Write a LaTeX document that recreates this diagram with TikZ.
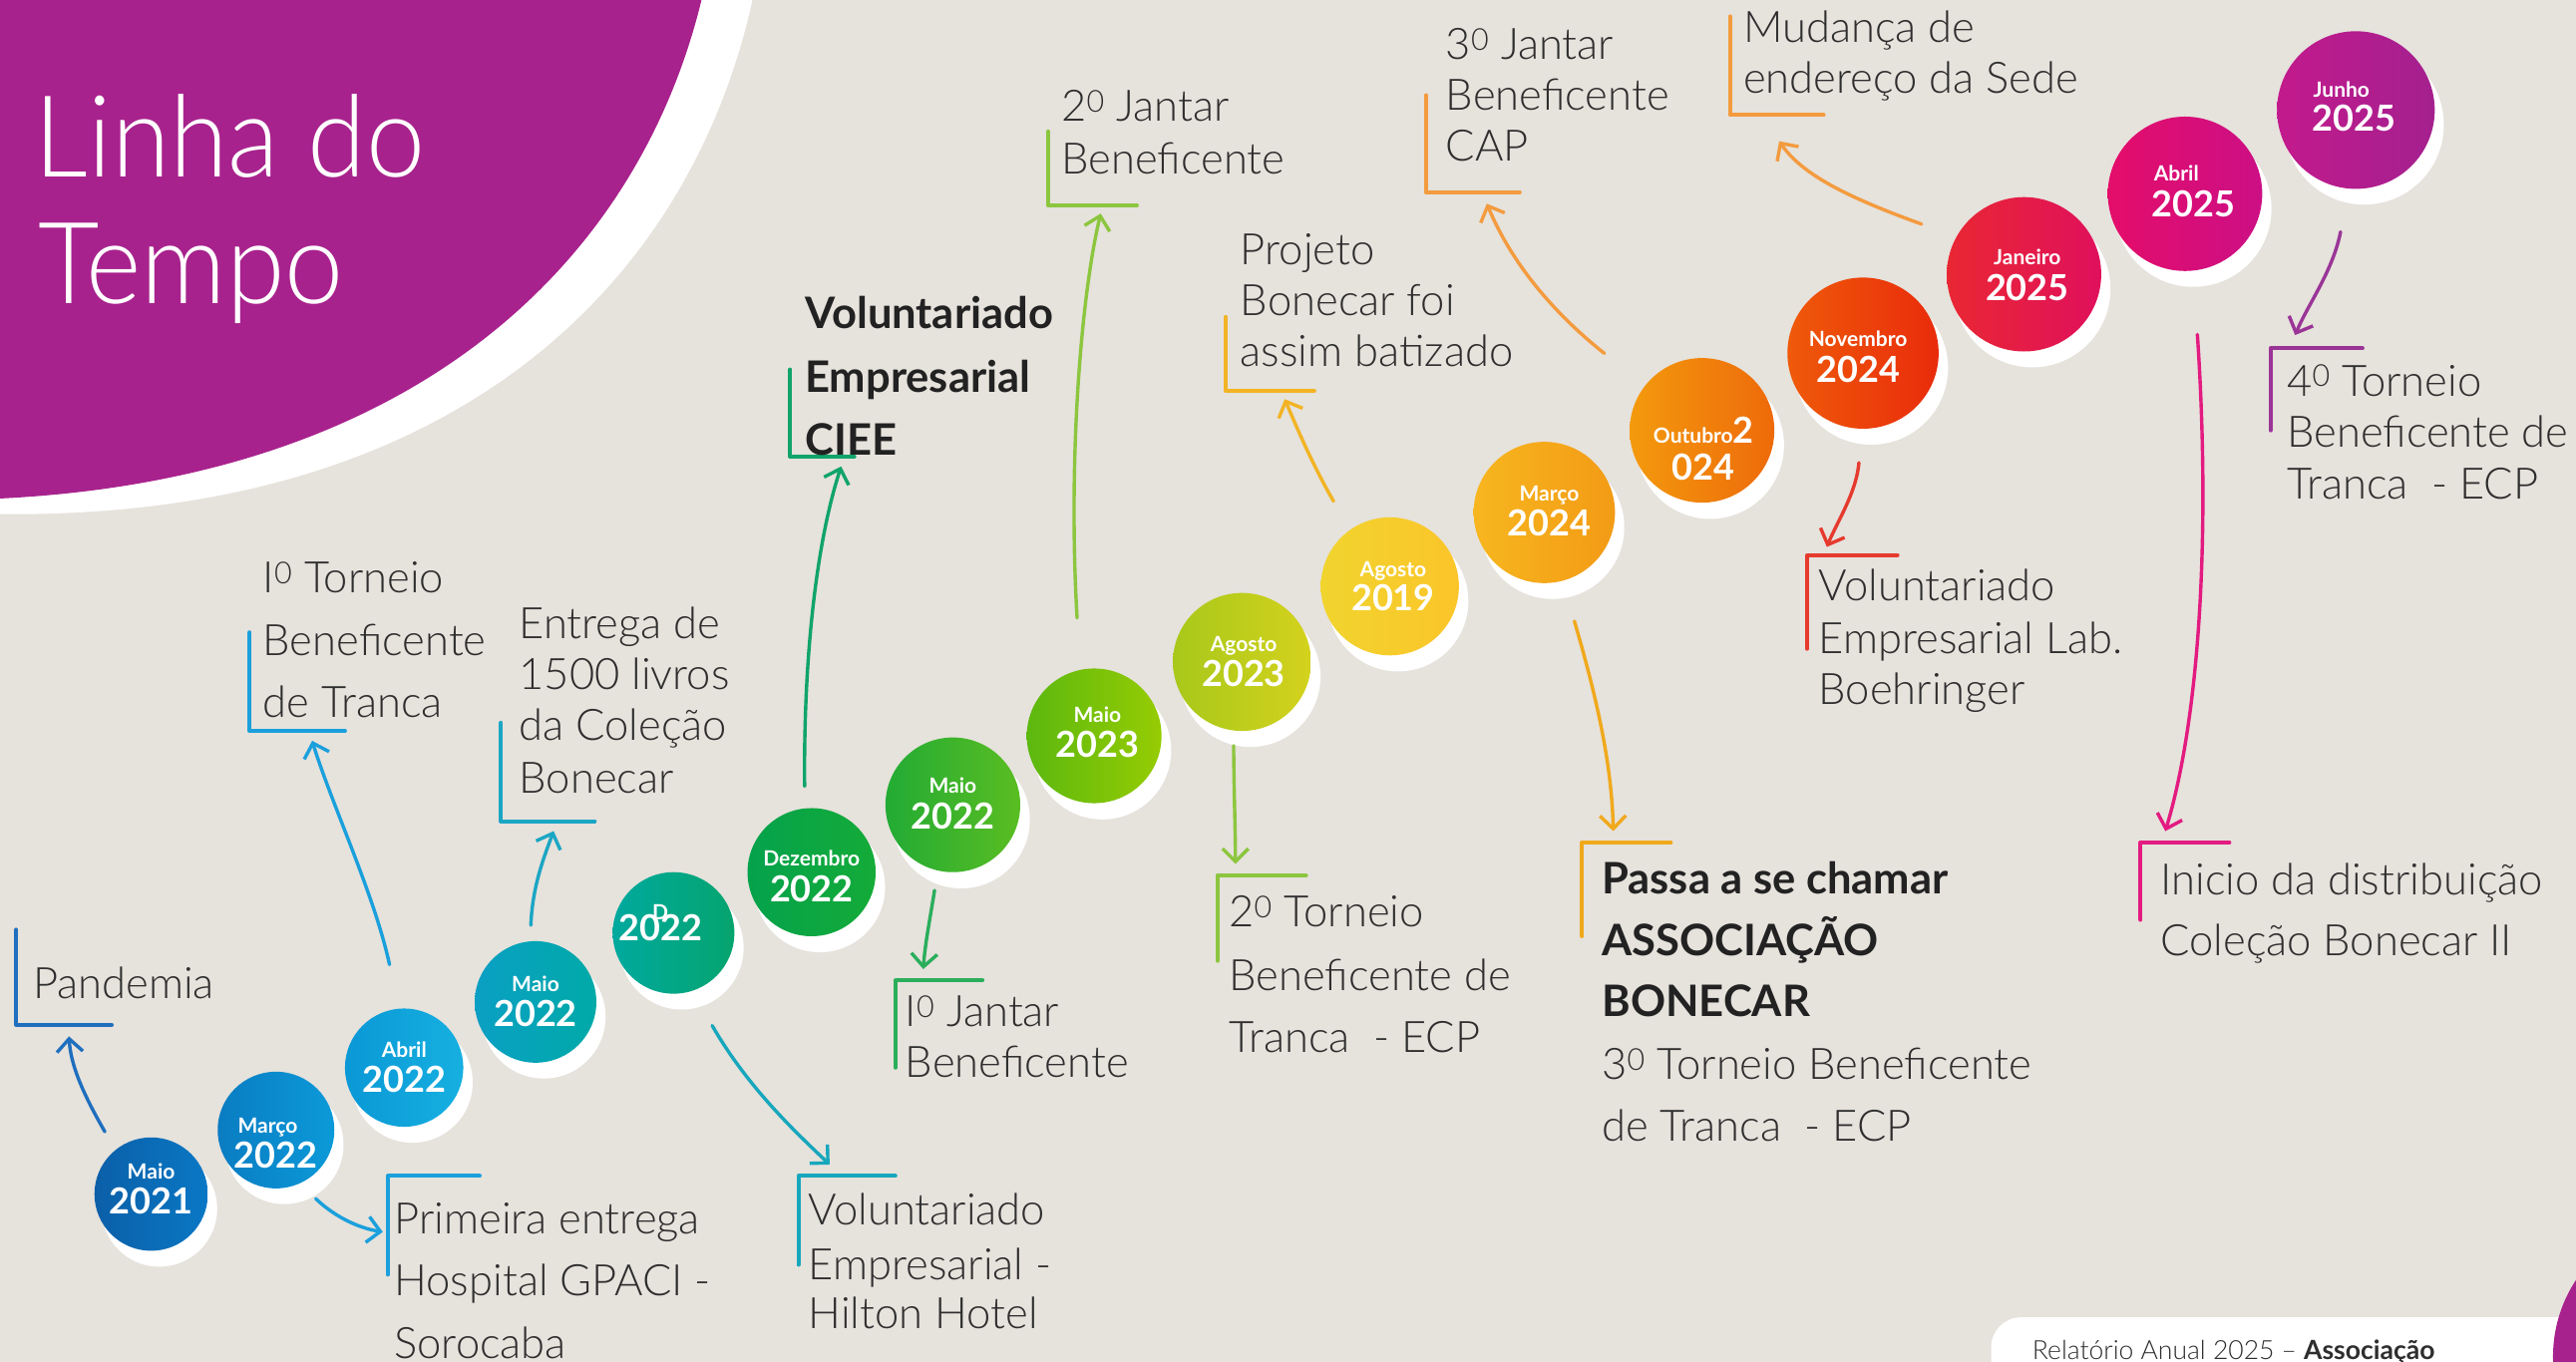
\documentclass[tikz,border=0pt]{standalone}
\usepackage{fontspec}
\setmainfont{Lato Light}[BoldFont=Lato Bold]
\newfontfamily\circfont{Lato Bold}
\usetikzlibrary{arrows.meta}
\definecolor{bg}{HTML}{E6E2DC}
\definecolor{purp}{HTML}{A8228D}
\definecolor{txt}{HTML}{2E2E2E}
\definecolor{txtb}{HTML}{222222}
% circle colours
\definecolor{k1L}{HTML}{0B5FA8}\definecolor{k1R}{HTML}{0A78C5}
\definecolor{k2L}{HTML}{0A7CC2}\definecolor{k2R}{HTML}{0B9AD9}
\definecolor{k3L}{HTML}{0A98D6}\definecolor{k3R}{HTML}{16B0E0}
\definecolor{k4L}{HTML}{0A9FC4}\definecolor{k4R}{HTML}{00AAA8}
\definecolor{k5L}{HTML}{00A99E}\definecolor{k5R}{HTML}{05A46E}
\definecolor{k6L}{HTML}{05A24C}\definecolor{k6R}{HTML}{14AB38}
\definecolor{k7L}{HTML}{22AB34}\definecolor{k7R}{HTML}{5ABD22}
\definecolor{k8L}{HTML}{5CB80F}\definecolor{k8R}{HTML}{96CC03}
\definecolor{k9L}{HTML}{A8C81A}\definecolor{k9R}{HTML}{D4D21D}
\definecolor{k10L}{HTML}{F1D42E}\definecolor{k10R}{HTML}{FBC52A}
\definecolor{k11L}{HTML}{F7B61F}\definecolor{k11R}{HTML}{F39B15}
\definecolor{k12L}{HTML}{F39A0D}\definecolor{k12R}{HTML}{EE6A0A}
\definecolor{k13L}{HTML}{EF5A0A}\definecolor{k13R}{HTML}{E92B0B}
\definecolor{k14L}{HTML}{E92733}\definecolor{k14R}{HTML}{E0105C}
\definecolor{k15L}{HTML}{E40D6A}\definecolor{k15R}{HTML}{CC0F85}
\definecolor{k16L}{HTML}{C21A8D}\definecolor{k16R}{HTML}{A4208E}
% connector colours
\definecolor{a1}{HTML}{1F6FBF}\definecolor{a2}{HTML}{1AA0DC}
\definecolor{a3}{HTML}{1AA0DC}\definecolor{a4}{HTML}{1BA6C4}
\definecolor{a5}{HTML}{17A7BD}\definecolor{a6}{HTML}{10A46A}
\definecolor{a7}{HTML}{2AAE5C}\definecolor{a8}{HTML}{8CC63F}
\definecolor{a9}{HTML}{8CC63F}\definecolor{a10}{HTML}{F2B424}
\definecolor{a11}{HTML}{F0A91C}\definecolor{a12}{HTML}{F39B3E}
\definecolor{a13}{HTML}{E63A2E}\definecolor{a14}{HTML}{F39B3E}
\definecolor{a15}{HTML}{E31B80}\definecolor{a16}{HTML}{9A3597}
\begin{document}
\begin{tikzpicture}[x=1.6473pt,y=-1.6473pt,line cap=round,line join=round,
  lbl/.style={anchor=base west,inner sep=0pt,font=\fontsize{43.5}{52}\selectfont,text=txt},
  lblb/.style={anchor=base west,inner sep=0pt,font=\fontsize{43.5}{52}\selectfont\bfseries,text=txtb},
  mon/.style={anchor=base,inner sep=0pt,font=\circfont\fontsize{21}{21}\selectfont,text=white},
  yr/.style={anchor=base,inner sep=0pt,font=\circfont\fontsize{36}{36}\selectfont,text=white},
  tlc/.style={circle,inner sep=0pt,minimum size=#1},
  shad/.style={circle,inner sep=0pt,fill=white,minimum size=#1},
  arr/.style={line width=3.4pt,-{Straight Barb[length=13pt,width=26pt]}},
  brk/.style={line width=4pt}]
\useasboundingbox (0,0) rectangle (1568,829);
\fill[bg] (0,0) rectangle (1568,829);
% title shape
\fill[white] (0,0) -- (458,0) .. controls (419,176) and (273,316) .. (0,313) -- cycle;
\fill[purp] (0,0) -- (427,0) .. controls (388.5,158) and (255,291) .. (0,303.5) -- cycle;
\node[anchor=base west,inner sep=0pt,text=white,font=\fontsize{114}{127}\selectfont] (title1) at (21,108) {\scalebox{0.93}[1]{Linha do}};
\node[anchor=base west,inner sep=0pt,text=white,font=\fontsize{114}{127}\selectfont] (title2) at (23,185) {\scalebox{0.93}[1]{Tempo}};
% footer
\fill[white,rounded corners=30pt] (1212,802) rectangle (1600,860);
\fill[purp] (1639,826) circle (85);
\node[anchor=base west,inner sep=0pt,text=txt,font=\fontsize{26.5}{26.5}\selectfont] (foot) at (1237,828) {Relatório Anual 2025 – \textbf{Associação}};

% tips of connectors
\coordinate (t1) at (42,631);
\coordinate (t2) at (233,750);
\coordinate (t3) at (190,451);
\coordinate (t4) at (337,506);
\coordinate (t5) at (505,709);
\coordinate (t6) at (512,284);
\coordinate (t7) at (562,590);
\coordinate (t8) at (670,130);
\coordinate (t9) at (752,526);
\coordinate (t10) at (782,243);
\coordinate (t11) at (982,506);
\coordinate (t12) at (905,124);
\coordinate (t13) at (1112,333);
\coordinate (t14) at (1083,86);
\coordinate (t15) at (1318,506);
\coordinate (t16) at (1397,204);

% circles
\node[shad=116pt] (s1) at (97,736) {};
\node[tlc=113.7pt,left color=k1L,right color=k1R] (c1) at (92,727) {};
\node[shad=119pt] (s2) at (173,697) {};
\node[tlc=117pt,left color=k2L,right color=k2R] (c2) at (168,688) {};
\node[shad=121pt] (s3) at (251,659) {};
\node[tlc=118.6pt,left color=k3L,right color=k3R] (c3) at (246,650) {};
\node[shad=124pt] (s4) at (331,619) {};
\node[tlc=121.9pt,left color=k4L,right color=k4R] (c4) at (326,610) {};
\node[shad=124pt] (s5) at (415,577) {};
\node[tlc=121.9pt,left color=k5L,right color=k5R] (c5) at (410,568) {};
\node[shad=131pt] (s6) at (499,540) {};
\node[tlc=128.5pt,left color=k6L,right color=k6R] (c6) at (494,531) {};
\node[shad=138pt] (s7) at (585,499) {};
\node[tlc=135.1pt,left color=k7L,right color=k7R] (c7) at (580,490) {};
\node[shad=138pt] (s8) at (671,457) {};
\node[tlc=135.1pt,left color=k8L,right color=k8R] (c8) at (666,448) {};
\node[shad=141pt] (s9) at (761,412) {};
\node[tlc=138.4pt,left color=k9L,right color=k9R] (c9) at (756,403) {};
\node[shad=141pt] (s10) at (851,366) {};
\node[tlc=138.4pt,left color=k10L,right color=k10R] (c10) at (846,357) {};
\node[shad=144pt] (s11) at (945,321) {};
\node[tlc=141.7pt,left color=k11L,right color=k11R] (c11) at (940,312) {};
\node[shad=148pt] (s12) at (1041,271) {};
\node[tlc=145pt,left color=k12L,right color=k12R] (c12) at (1036,262) {};
\node[shad=154pt] (s13) at (1139,224) {};
\node[tlc=151.6pt,left color=k13L,right color=k13R] (c13) at (1134,215) {};
\node[shad=157pt] (s14) at (1237,176) {};
\node[tlc=154.8pt,left color=k14L,right color=k14R] (c14) at (1232,167) {};
\node[shad=157pt] (s15) at (1335,127) {};
\node[tlc=154.8pt,left color=k15L,right color=k15R] (c15) at (1330,118) {};
\node[shad=160pt] (s16) at (1439,76) {};
\node[tlc=158.1pt,left color=k16L,right color=k16R] (c16) at (1434,67) {};

% circle texts
\node[mon] (m1) at (92,718) {Maio};      \node[yr] (y1) at (92,739) {2021};
\node[mon] (m2) at (163,690) {Março};    \node[yr] (y2) at (168,711) {2022};
\node[mon] (m3) at (246,644) {Abril};    \node[yr] (y3) at (246,665) {2022};
\node[mon] (m4) at (326,604) {Maio};     \node[yr] (y4) at (326,625) {2022};
\node[mon] (m5) at (402,560) {D};        \node[yr] (y5) at (402,573) {2022};
\node[mon] (m6) at (494,527) {Dezembro}; \node[yr] (y6) at (494,549) {2022};
\node[mon] (m7) at (580,483) {Maio};     \node[yr] (y7) at (580,505) {2022};
\node[mon] (m8) at (668,440) {Maio};     \node[yr] (y8) at (668,461) {2023};
\node[mon] (m9) at (757,397) {Agosto};   \node[yr] (y9) at (757,418) {2023};
\node[mon] (m10) at (848,351) {Agosto};  \node[yr] (y10) at (848,372) {2019};
\node[mon] (m11) at (943,305) {Março};   \node[yr] (y11) at (943,326) {2024};
\node[mon] (m12) at (1037,270) {Outubro{\fontsize{36}{36}\selectfont 2}};
\node[yr] (y12) at (1037,292) {024};
\node[mon] (m13) at (1131,211) {Novembro}; \node[yr] (y13) at (1131,233) {2024};
\node[mon] (m14) at (1234,161) {Janeiro};  \node[yr] (y14) at (1234,183) {2025};
\node[mon,anchor=base west] (m15) at (1311,110) {Abril}; \node[yr] (y15) at (1335,132) {2025};
\node[mon,anchor=base west] (m16) at (1408,59) {Junho};  \node[yr] (y16) at (1433,80) {2025};

% connectors
\draw[arr,a1,shorten <=21pt] (c1.129) .. controls (50,665) and (43,648) .. (t1);
\draw[arr,a2,shorten <=22pt] (c2.294) .. controls (205,742) and (220,748) .. (t2);
\draw[arr,a3,shorten <=45pt] (c3.95) .. controls (228,545) and (202,490) .. (t3);
\draw[arr,a4,shorten <=16pt] (c4.95) .. controls (324,540) and (331,522) .. (t4);
\draw[arr,a5,shorten <=40pt] (c5.288) .. controls (455,662) and (485,690) .. (t5);
\draw[arr,a6,shorten <=22pt] (c6.96) .. controls (489,400) and (497,330) .. (t6);
\draw[arr,a7,shorten <=20pt] (c7.257) .. controls (566,560) and (563,575) .. (t7);
\draw[arr,a8,shorten <=52pt] (c8.102) .. controls (650,280) and (658,180) .. (t8);
\draw[arr,a9,shorten <=15pt] (c9.263) .. controls (751,480) and (752,505) .. (t9);
\draw[arr,a10,shorten <=33pt] (c10.125) .. controls (800,285) and (790,262) .. (t10);
\draw[arr,a11,shorten <=42pt] (c11.285) .. controls (972,425) and (981,465) .. (t11);
\draw[arr,a12,shorten <=52pt] (c12.142) .. controls (945,190) and (920,160) .. (t12);
\draw[arr,a13,shorten <=34pt] (c13.269) .. controls (1130,300) and (1118,318) .. (t13);
\draw[arr,a14,shorten <=37pt] (c14.151) .. controls (1130,122) and (1098,108) .. (t14);
\draw[arr,a15,shorten <=64pt] (c15.276) .. controls (1346,330) and (1338,440) .. (t15);
\draw[arr,a16,shorten <=44pt] (c16.265) .. controls (1420,165) and (1405,185) .. (t16);

% brackets
\draw[brk,a1] (10,566) -- (10,624) -- (68,624);
\draw[brk,a2] (292,716) -- (236,716) -- (236,776);
\draw[brk,a3] (152,385) -- (152,445) -- (210,445);
\draw[brk,a4] (305,440) -- (305,500) -- (362,500);
\draw[brk,a5] (545,716) -- (486,716) -- (486,770);
\draw[brk,a6] (481,225) -- (481,278) -- (520,278);
\draw[brk,a7] (598,597) -- (545,597) -- (545,650);
\draw[brk,a8] (638,80) -- (638,125) -- (692,125);
\draw[brk,a9] (795,533) -- (741,533) -- (741,585);
\draw[brk,a10] (746,193) -- (746,238) -- (800,238);
\draw[brk,a11] (1017,513) -- (963,513) -- (963,570);
\draw[brk,a12] (868,58) -- (868,117) -- (925,117);
\draw[brk,a13] (1155,338) -- (1100,338) -- (1100,395);
\draw[brk,a14] (1053,10) -- (1053,70) -- (1110,70);
\draw[brk,a15] (1357,513) -- (1303,513) -- (1303,560);
\draw[brk,a16] (1438,212) -- (1382,212) -- (1382,262);

% labels
\node[lbl] (l1a) at (20,608) {Pandemia};
\node[lbl] (l2a) at (240,751) {Primeira entrega};
\node[lbl] (l2b) at (240,789) {Hospital GPACI -};
\node[lbl] (l2c) at (240,827) {Sorocaba};
\node[lbl] (l3a) at (160,361) {I\textsuperscript{0} Torneio};
\node[lbl] (l3b) at (160,399) {Beneficente};
\node[lbl] (l3c) at (160,437) {de Tranca};
\node[lbl] (l4a) at (316,389) {Entrega de};
\node[lbl] (l4b) at (316,420) {1500 livros};
\node[lbl] (l4c) at (316,451) {da Coleção};
\node[lbl] (l4d) at (316,483) {Bonecar};
\node[lbl] (l5a) at (492,746) {Voluntariado};
\node[lbl] (l5b) at (492,779) {Empresarial -};
\node[lbl] (l5c) at (492,809) {Hilton Hotel};
\node[lblb] (l6a) at (490,200) {Voluntariado};
\node[lblb] (l6b) at (490,239) {Empresarial};
\node[lblb] (l6c) at (490,277) {CIEE};
\node[lbl] (l7a) at (551,625) {I\textsuperscript{0} Jantar};
\node[lbl] (l7b) at (551,656) {Beneficente};
\node[lbl] (l8a) at (646,74) {2\textsuperscript{0} Jantar};
\node[lbl] (l8b) at (646,106) {Beneficente};
\node[lbl] (l9a) at (748,564) {2\textsuperscript{0} Torneio};
\node[lbl] (l9b) at (748,603) {Beneficente de};
\node[lbl] (l9c) at (748,641) {Tranca~ - ECP};
\node[lbl] (l10a) at (755,161) {Projeto};
\node[lbl] (l10b) at (755,192) {Bonecar foi};
\node[lbl] (l10c) at (755,223) {assim batizado};
\node[lblb] (l11a) at (975,544) {Passa a se chamar};
\node[lblb] (l11b) at (975,582) {ASSOCIAÇÃO};
\node[lblb] (l11c) at (975,619) {BONECAR};
\node[lbl] (l11d) at (975,657) {3\textsuperscript{0} Torneio Beneficente};
\node[lbl] (l11e) at (975,695) {de Tranca~ - ECP};
\node[lbl] (l12a) at (880,36) {3\textsuperscript{0} Jantar};
\node[lbl] (l12b) at (880,67) {Beneficente};
\node[lbl] (l12c) at (880,98) {CAP};
\node[lbl] (l13a) at (1107,366) {Voluntariado};
\node[lbl] (l13b) at (1107,398) {Empresarial Lab.};
\node[lbl] (l13c) at (1107,429) {Boehringer};
\node[lbl] (l14a) at (1061,26) {Mudança de};
\node[lbl] (l14b) at (1061,57) {endereço da Sede};
\node[lbl] (l15a) at (1315,545) {Inicio da distribuição};
\node[lbl] (l15b) at (1315,582) {Coleção Bonecar II};
\node[lbl] (l16a) at (1392,241) {4\textsuperscript{0} Torneio};
\node[lbl] (l16b) at (1392,272) {Beneficente de};
\node[lbl] (l16c) at (1392,304) {Tranca~ - ECP};
\end{tikzpicture}
\end{document}
